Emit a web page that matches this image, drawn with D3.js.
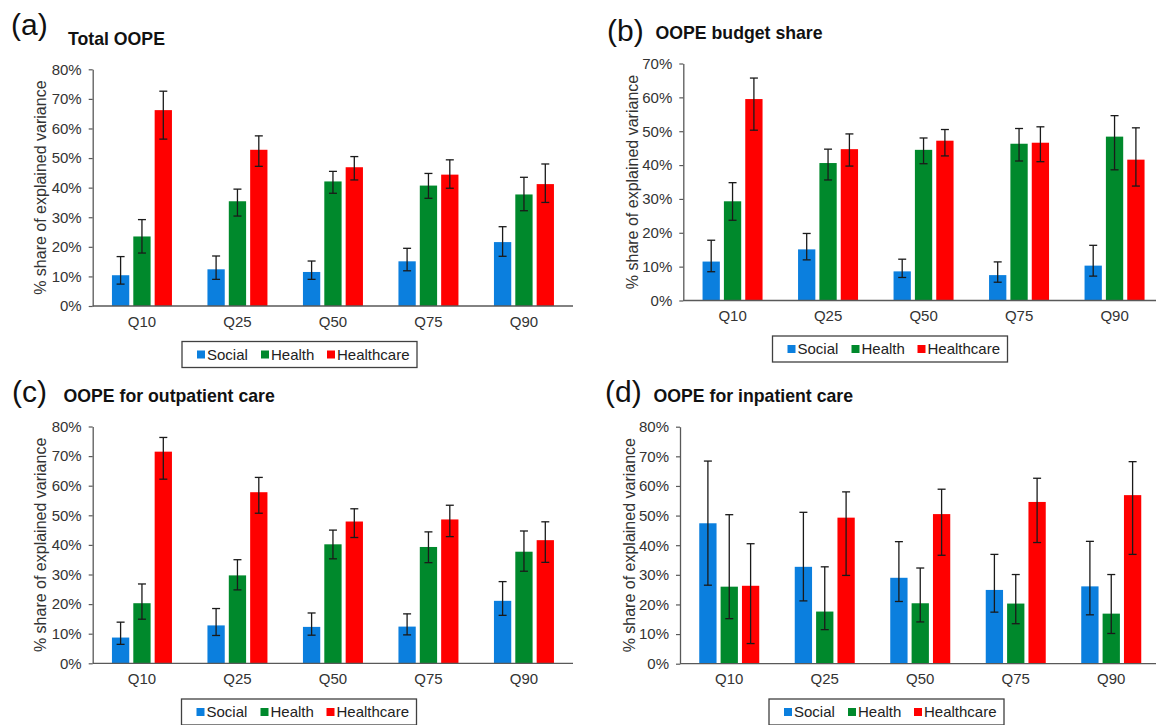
<!DOCTYPE html>
<html>
<head>
<meta charset="utf-8">
<script src="https://cdn.jsdelivr.net/npm/d3@7"></script>
<style>
  body { margin: 0; background: #fff; }
  svg { display: block; font-family: Arial, "Liberation Sans", sans-serif; }
</style>
</head>
<body>
<div id="container"></div>
<script>
/* DATA */
const quantiles = ["Q10", "Q25", "Q50", "Q75", "Q90"];
const series = ["Social", "Health", "Healthcare"];
const colors = ["#0b7fde", "#00892c", "#ff0000"];

// (a) Total OOPE — rows: Social, Health, Healthcare
const totalMean = [[10.4, 12.4, 11.5, 15.1, 21.6], [23.5, 35.4, 42.1, 40.7, 37.7], [66.2, 52.8, 46.9, 44.4, 41.2]];
const totalHi = [[16.7, 16.9, 15.2, 19.5, 26.8], [29.2, 39.5, 45.5, 44.8, 43.5], [72.6, 57.5, 50.5, 49.4, 48.0]];
const totalLo = [[7.4, 9.0, 9.0, 11.9, 16.8], [17.9, 30.4, 38.1, 36.4, 32.2], [56.4, 47.2, 42.6, 39.8, 35.0]];

// (b) OOPE budget share
const budgetMean = [[11.5, 15.1, 8.6, 7.5, 10.3], [29.3, 40.6, 44.5, 46.3, 48.4], [59.5, 44.7, 47.2, 46.6, 41.6]];
const budgetHi = [[17.8, 19.8, 12.2, 11.4, 16.3], [34.8, 44.7, 48.0, 50.8, 54.6], [65.7, 49.2, 50.5, 51.3, 51.0]];
const budgetLo = [[8.5, 12.0, 6.8, 5.4, 7.2], [23.7, 35.6, 40.4, 41.2, 38.6], [50.3, 39.7, 42.7, 41.0, 33.8]];

// (c) OOPE for outpatient care
const outMean = [[8.7, 12.8, 12.3, 12.4, 21.1], [20.3, 29.7, 40.2, 39.3, 37.7], [71.5, 57.8, 47.9, 48.6, 41.6]];
const outHi = [[13.9, 18.5, 17.0, 16.7, 27.6], [26.8, 35.0, 45.0, 44.4, 44.7], [76.3, 62.8, 52.2, 53.4, 47.8]];
const outLo = [[6.4, 9.4, 9.5, 9.6, 16.2], [14.9, 24.8, 35.3, 34.0, 31.1], [62.2, 50.7, 42.5, 42.8, 34.1]];

// (d) OOPE for inpatient care
const inMean = [[47.4, 32.7, 29.0, 24.9, 26.1], [26.0, 17.6, 20.4, 20.3, 16.9], [26.3, 49.3, 50.5, 54.6, 56.9]];
const inHi = [[68.4, 51.1, 41.2, 36.9, 41.3], [50.3, 32.7, 32.3, 30.1, 30.1], [40.5, 58.0, 58.9, 62.6, 68.2]];
const inLo = [[26.5, 21.2, 21.0, 17.4, 16.5], [15.2, 11.5, 14.1, 13.5, 10.2], [6.8, 29.8, 36.6, 40.9, 36.9]];

/* LAYOUT */
const panels = [
  { tag: "(a)", title: "Total OOPE", mean: totalMean, hi: totalHi, lo: totalLo, yMax: 80,
    axisX: 92.7, top: 69.3, bottom: 306, axisEnd: 573, labelX: 40,
    tagX: 11, tagY: 35, titleX: 68, titleY: 45, legX: 182, legY: 341.5 },
  { tag: "(b)", title: "OOPE budget share", mean: budgetMean, hi: budgetHi, lo: budgetLo, yMax: 70,
    axisX: 683.3, top: 63.5, bottom: 300.5, axisEnd: 1160, labelX: 632,
    tagX: 607, tagY: 41, titleX: 655.5, titleY: 39, legX: 772.5, legY: 336 },
  { tag: "(c)", title: "OOPE for outpatient care", mean: outMean, hi: outHi, lo: outLo, yMax: 80,
    axisX: 92.7, top: 426.5, bottom: 663.3, axisEnd: 573, labelX: 40,
    tagX: 12, tagY: 402, titleX: 63.5, titleY: 402, legX: 181.5, legY: 699 },
  { tag: "(d)", title: "OOPE for inpatient care", mean: inMean, hi: inHi, lo: inLo, yMax: 80,
    axisX: 680, top: 426.7, bottom: 663.7, axisEnd: 1160, labelX: 629,
    tagX: 605, tagY: 402, titleX: 653.5, titleY: 402, legX: 769, legY: 699 }
];

const svg = d3.select("#container")
  .append("svg")
  .attr("width", 1156)
  .attr("height", 725);

svg.append("rect").attr("width", 1156).attr("height", 725).attr("fill", "#fff");

panels.forEach(p => {
  const g = svg.append("g");

  const yScale = d3.scaleLinear()
    .domain([0, p.yMax])
    .range([p.bottom, p.top]);

  const xScale = d3.scaleBand()
    .domain(quantiles)
    .range([p.axisX + 1.5, p.axisX + 1.5 + 477.5]);

  const xSub = d3.scaleBand()
    .domain(series)
    .range([-30, 30])
    .paddingInner(0.19);

  // bars
  series.forEach((s, si) => {
    g.append("g")
      .selectAll("rect")
      .data(quantiles)
      .join("rect")
      .attr("x", (q) => xScale(q) + xScale.bandwidth() / 2 + xSub(s))
      .attr("y", (q, i) => yScale(p.mean[si][i]))
      .attr("width", xSub.bandwidth())
      .attr("height", (q, i) => yScale(0) - yScale(p.mean[si][i]))
      .attr("fill", colors[si]);

    // error bars
    const eb = g.append("g")
      .attr("stroke", "#1a1a1a")
      .attr("stroke-width", 1.3)
      .selectAll("g")
      .data(quantiles)
      .join("g")
      .attr("transform", q => `translate(${xScale(q) + xScale.bandwidth() / 2 + xSub(s) + xSub.bandwidth() / 2},0)`);
    eb.append("line")
      .attr("y1", (q, i) => yScale(p.hi[si][i]))
      .attr("y2", (q, i) => yScale(p.lo[si][i]));
    eb.append("line")
      .attr("x1", -4).attr("x2", 4)
      .attr("y1", (q, i) => yScale(p.hi[si][i]))
      .attr("y2", (q, i) => yScale(p.hi[si][i]));
    eb.append("line")
      .attr("x1", -4).attr("x2", 4)
      .attr("y1", (q, i) => yScale(p.lo[si][i]))
      .attr("y2", (q, i) => yScale(p.lo[si][i]));
  });

  // y axis
  const yAxis = d3.axisLeft(yScale)
    .tickValues(d3.range(0, p.yMax + 1, 10))
    .tickFormat(d => d + "%")
    .tickSize(4)
    .tickSizeOuter(0)
    .tickPadding(7);

  const ya = g.append("g")
    .attr("transform", `translate(${p.axisX},0)`)
    .call(yAxis);
  ya.select(".domain").attr("stroke", "#595959").attr("stroke-width", 1.3);
  ya.selectAll(".tick line").attr("stroke", "#595959").attr("stroke-width", 1.2);
  ya.selectAll(".tick text")
    .attr("fill", "#333")
    .style("font-size", "15px")
    .style("font-family", "Arial, 'Liberation Sans', sans-serif");

  // x axis
  const xAxis = d3.axisBottom(xScale).tickSize(0).tickPadding(10);
  const xa = g.append("g")
    .attr("transform", `translate(0,${p.bottom})`)
    .call(xAxis);
  xa.select(".domain").remove();
  g.append("line")
    .attr("x1", p.axisX).attr("x2", p.axisEnd)
    .attr("y1", p.bottom).attr("y2", p.bottom)
    .attr("stroke", "#595959").attr("stroke-width", 1.3);
  xa.selectAll(".tick text")
    .attr("fill", "#333")
    .style("font-size", "15px")
    .style("font-family", "Arial, 'Liberation Sans', sans-serif");

  // y label
  g.append("text")
    .attr("transform", `translate(${p.labelX},${(p.top + p.bottom) / 2}) rotate(-90)`)
    .attr("text-anchor", "middle")
    .attr("dominant-baseline", "central")
    .attr("fill", "#333")
    .style("font-size", "16px")
    .text("% share of explained variance");

  // panel tag and title
  g.append("text")
    .attr("x", p.tagX).attr("y", p.tagY)
    .style("font-size", "30px")
    .attr("fill", "#111")
    .text(p.tag);
  g.append("text")
    .attr("x", p.titleX).attr("y", p.titleY)
    .style("font-size", "17.7px")
    .style("font-weight", "bold")
    .attr("fill", "#111")
    .text(p.title);

  // legend
  const leg = g.append("g").attr("transform", `translate(${p.legX},${p.legY})`);
  leg.append("rect")
    .attr("width", 235).attr("height", 26)
    .attr("fill", "#fff")
    .attr("stroke", "#404040").attr("stroke-width", 1.3);
  const legOffsets = [15, 79, 145];
  series.forEach((s, si) => {
    leg.append("rect")
      .attr("x", legOffsets[si]).attr("y", 9)
      .attr("width", 8).attr("height", 8)
      .attr("fill", colors[si]);
    leg.append("text")
      .attr("x", legOffsets[si] + 10).attr("y", 18)
      .attr("fill", "#222")
      .style("font-size", "15px")
      .text(s);
  });
});
</script>
</body>
</html>
